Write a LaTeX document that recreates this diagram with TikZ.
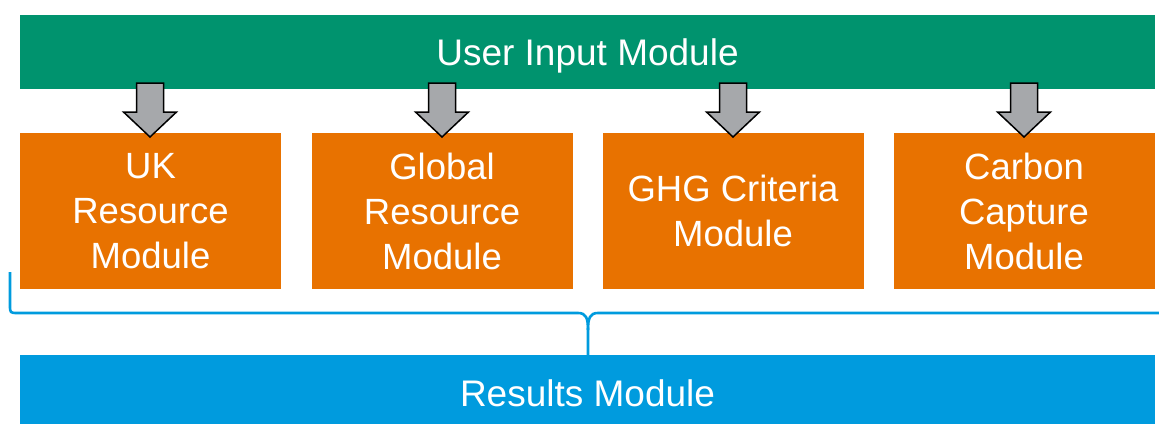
\documentclass[tikz,border=0pt]{standalone}
\usepackage{fontspec}
\setmainfont{Liberation Sans}
\definecolor{ugreen}{RGB}{0,147,110}
\definecolor{uorange}{RGB}{232,114,0}
\definecolor{ublue}{RGB}{0,155,222}
\definecolor{ugray}{RGB}{166,168,171}
\begin{document}
\begin{tikzpicture}[x=1pt,y=-1pt,
  box/.style={fill=#1,draw=none,inner sep=0pt,text=white,align=center,
    font=\fontsize{36.5}{45}\selectfont},
  modbox/.style={box=uorange,minimum width=261pt,minimum height=156pt},
  banner/.style={box=#1,minimum width=1135pt,text depth=0pt,
    font=\fontsize{37}{45}\selectfont},
  blockarrow/.style={fill=ugray,draw=black,line width=1.5pt,line join=miter},
  bracestyle/.style={draw=ublue,line width=2.6pt,line join=round}]
\useasboundingbox (0,0) rectangle (1159,423);
\node[banner=ugreen,minimum height=74pt] (input) at (587.5,52) {User Input Module};
\node[modbox] (uk) at (150.5,211) {UK\\Resource\\Module};
\node[modbox] (glob) at (442,211) {Global\\Resource\\Module};
\node[modbox] (ghg) at (733,211) {GHG Criteria\\Module};
\node[modbox] (ccs) at (1024,211) {Carbon\\Capture\\Module};
\node[banner=ublue,minimum height=76pt] (res) at (587.5,393) {Results Module};
% block arrows
\foreach \cx in {150,442,733,1024}{
  \draw[blockarrow] (\cx-13.5,83) -- (\cx+13.5,83) -- (\cx+13.5,112) -- (\cx+26.5,112)
    -- (\cx,137) -- (\cx-26.5,112) -- (\cx-13.5,112) -- cycle;
}
% brace
\coordinate (bl) at (10,272);
\coordinate (bt) at (588,357);
\draw[bracestyle] (bl) -- (10,305) .. controls (10,313) .. (18,313) -- (578,313)
  .. controls (586,313) and (588,318) .. (588,330) -- (bt);
\draw[bracestyle] (588,330) .. controls (588,318) and (590,313) .. (598,313) -- (1170,313);
\end{tikzpicture}
\end{document}
